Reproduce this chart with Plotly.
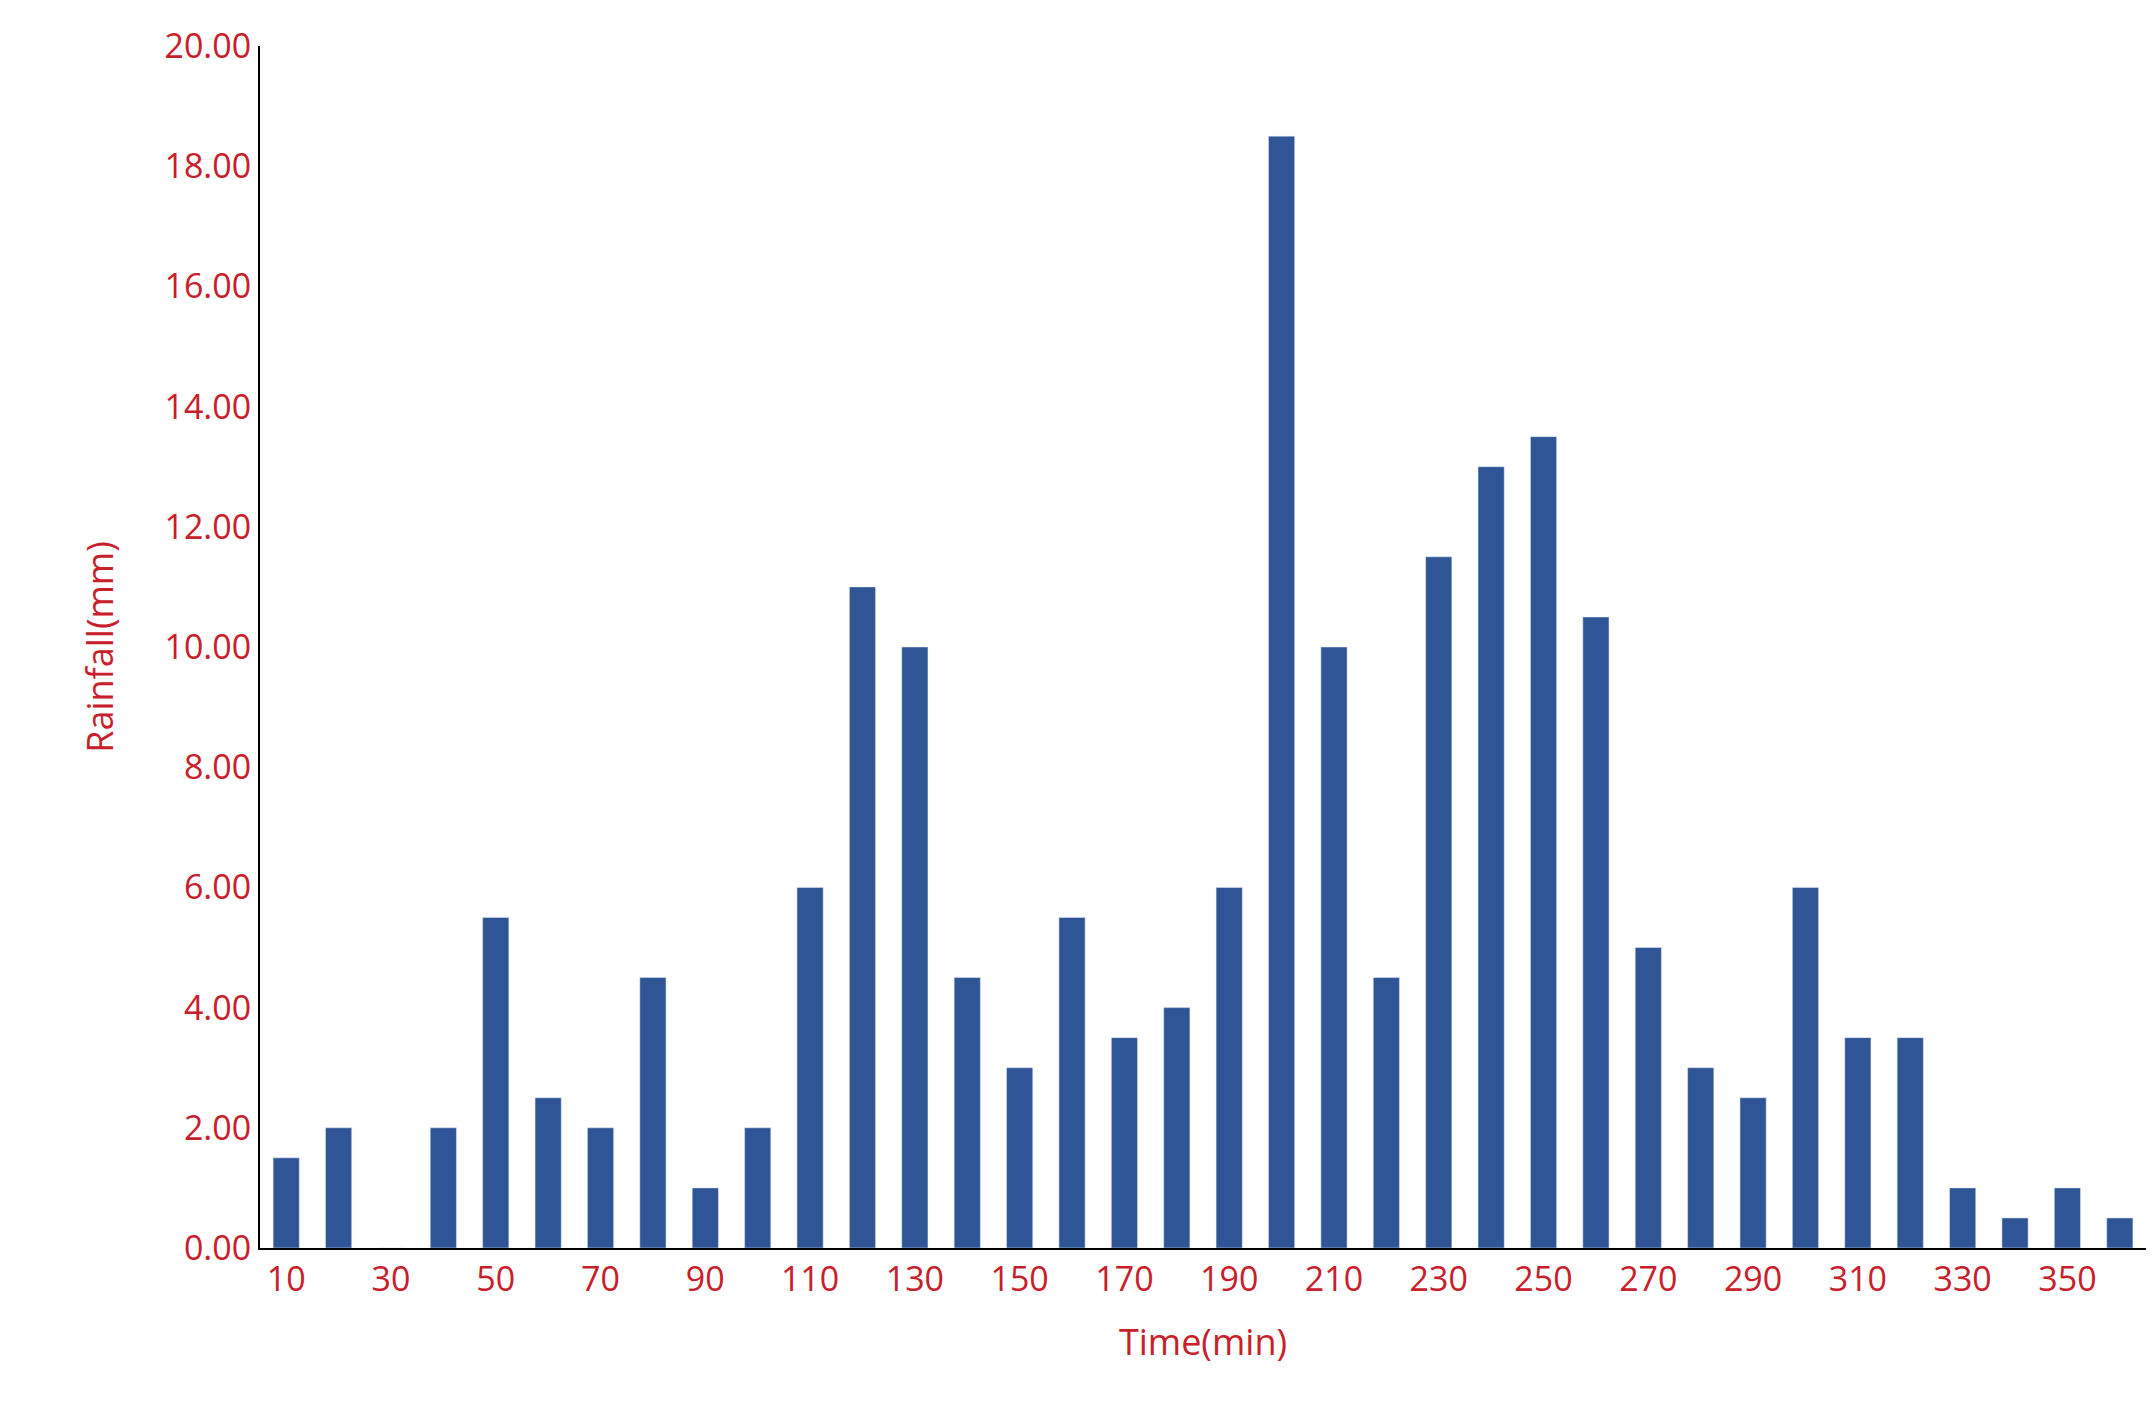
import plotly.graph_objects as go

times = list(range(10, 361, 10))
rainfall = [1.5, 2, 0, 2, 5.5, 2.5, 2, 4.5, 1, 2, 6, 11, 10, 4.5, 3, 5.5, 3.5, 4, 6, 18.5,
            10, 4.5, 11.5, 13, 13.5, 10.5, 5, 3, 2.5, 6, 3.5, 3.5, 1, 0.5, 1, 0.5]
tick_vals = [str(t) for t in range(10, 361, 20)]
red = "#C8202A"

fig = go.Figure(go.Bar(x=[str(t) for t in times], y=rainfall, marker_color="#2F5597"))
fig.update_layout(
    width=2156, height=1423, plot_bgcolor="white", paper_bgcolor="white",
    margin=dict(l=252, r=18, t=38, b=183), bargap=0.5, showlegend=False,
    font=dict(family="Open Sans", color=red, size=34),
)
fig.update_xaxes(type="category", tickvals=tick_vals, ticktext=tick_vals,
                 showline=True, linecolor="black", linewidth=2, ticks="",
                 tickfont=dict(size=34, color=red),
                 title=dict(text="Time(min)", font=dict(size=36, color=red), standoff=30))
fig.update_yaxes(range=[0, 20], dtick=2, tickformat=".2f", showgrid=False,
                 showline=True, linecolor="black", linewidth=2, ticks="",
                 tickfont=dict(size=34, color=red), zeroline=False,
                 title=dict(text="Rainfall(mm)", font=dict(size=36, color=red), standoff=40))
fig.write_html("out.html")
